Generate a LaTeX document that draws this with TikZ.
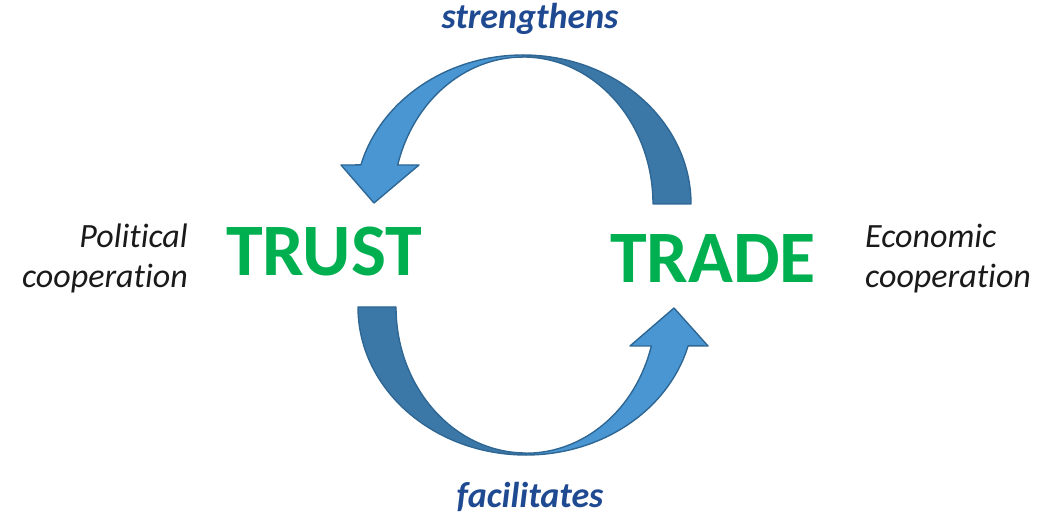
\documentclass[tikz,border=0pt]{standalone}
\usepackage{fontspec}
\setmainfont{Carlito}[Ligatures={NoCommon}]
\usetikzlibrary{positioning}
\usepackage{xcolor}
\definecolor{loopfront}{HTML}{4A96D2}
\definecolor{loopback}{HTML}{3B77A7}
\definecolor{loopedge}{HTML}{2F6794}
\definecolor{keygreen}{HTML}{00B050}
\definecolor{verbblue}{HTML}{1F4A91}
\definecolor{sidetext}{HTML}{1A1A1A}

\tikzset{
  keyword/.style={text=keygreen,font=\fontsize{74}{88}\selectfont\bfseries,inner sep=0pt,anchor=base},
  verb/.style={text=verbblue,font=\fontsize{36}{43}\selectfont\bfseries\itshape,inner sep=0pt,anchor=base},
  sidenote/.style={text=sidetext,font=\fontsize{34}{40}\selectfont\itshape,inner sep=0pt},
  loop/.style={draw=loopedge,line width=1.4pt,line join=round}
}

\begin{document}
\begin{tikzpicture}[x=1pt,y=1pt]
    \useasboundingbox (0,0) rectangle (1044,519);

    % centres of the two half loops
    \coordinate (upc) at (523,315);
    \coordinate (lowc) at (526,212);

    % upper loop, back part
    \fill[loopback,loop] (upc) ++(168,0) arc[start angle=0,end angle=90,x radius=168,y radius=149]
        -- ++(0,-2) arc[start angle=90,end angle=0,x radius=130,y radius=147] -- cycle;
    % upper loop, front part with head
    \fill[loopfront,loop] (upc) ++(0,149) arc[start angle=90,end angle=164.8,x radius=168,y radius=149]
        -- (341,354) -- (374,316) -- (419,354) -- (397.7,354)
        arc[start angle=164.6,end angle=90,x radius=130,y radius=147] -- cycle;

    % lower loop, back part
    \fill[loopback,loop] (lowc) ++(-168,0) arc[start angle=180,end angle=270,x radius=168,y radius=148]
        -- ++(0,2) arc[start angle=270,end angle=180,x radius=130,y radius=146] -- cycle;
    % lower loop, front part with head
    \fill[loopfront,loop] (lowc) ++(0,-148) arc[start angle=270,end angle=344.8,x radius=168,y radius=148]
        -- (708,173) -- (674,211) -- (630,173) -- (651.3,173)
        arc[start angle=344.6,end angle=270,x radius=130,y radius=146] -- cycle;

    % the two key words
    \node[keyword] (trust) at (324,243) {TRUST};
    \node[keyword] (trade) at (713,236) {TRADE};

    % what drives what
    \node[verb] (strengthens) at (530,490) {strengthens};
    \node[verb] (facilitates) at (530,11) {facilitates};

    % side notes (anchored on the second line)
    \node[sidenote,align=right,anchor=base east] (political) at (188,231) {Political\\cooperation};
    \node[sidenote,align=left,anchor=base west] (economic) at (865,231) {Economic\\cooperation};
\end{tikzpicture}
\end{document}
